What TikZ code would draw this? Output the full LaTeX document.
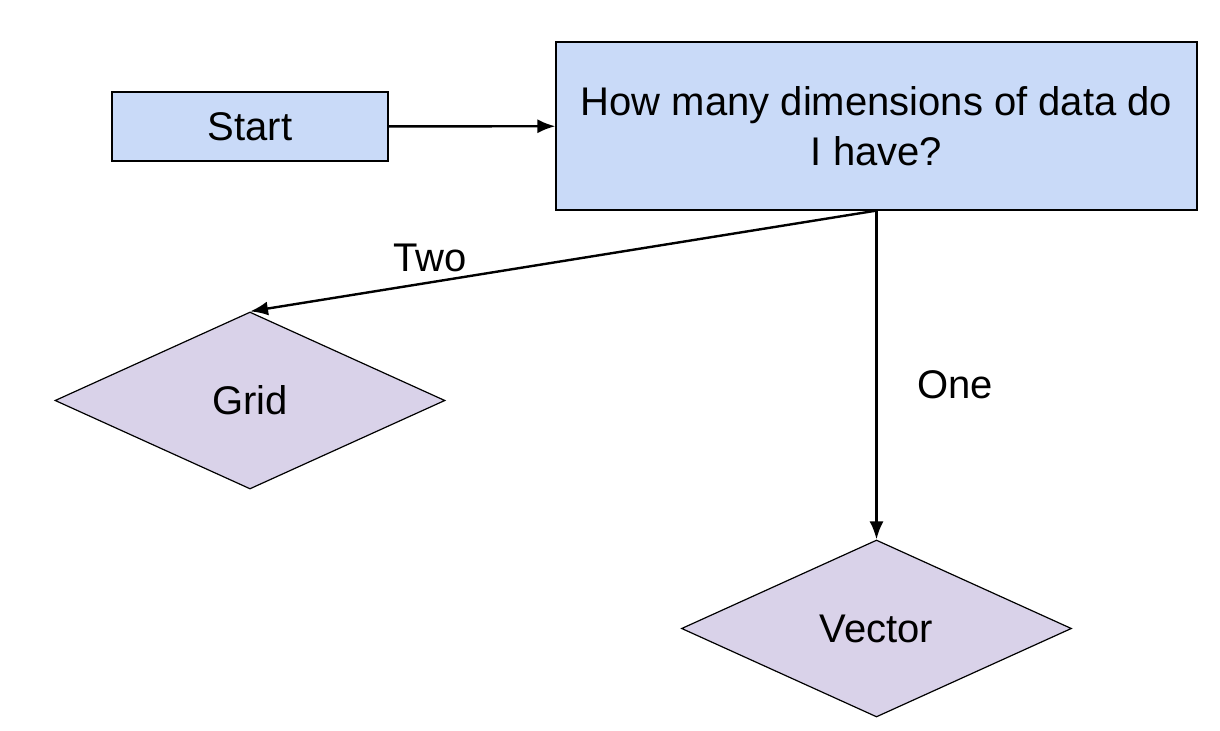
\documentclass[tikz,border=0pt]{standalone}
\usepackage{fontspec}
\setmainfont{Liberation Sans}
\usetikzlibrary{shapes.geometric,arrows.meta}
\definecolor{boxblue}{HTML}{C9DAF8}
\definecolor{lav}{HTML}{D9D2E9}
\begin{document}
\begin{tikzpicture}[x=0.5pt,y=-0.5pt,
  box/.style={draw=black,line width=0.6pt,fill=boxblue,inner sep=0pt,font=\fontsize{20}{25}\selectfont,align=center},
  dia/.style={diamond,draw=black,line width=0.6pt,fill=lav,inner sep=0pt,minimum width=195pt,minimum height=88.5pt,font=\fontsize{20}{25}\selectfont},
  conn/.style={line width=1.2pt,-{Latex[length=9pt,width=7pt]}},
  lbl/.style={font=\fontsize{20}{25}\selectfont}]
\useasboundingbox (0,0) rectangle (1220,731);
\node[box,minimum width=138pt,minimum height=34.5pt] (start) at (250,126.5) {Start};
\node[box,minimum width=320.5pt,minimum height=84pt] (q) at (876.5,126) {How many dimensions of data do\\I have?};
\node[dia] (grid) at (250,400.5) {Grid};
\node[dia] (vec) at (876.5,628.5) {Vector};
\draw[conn] (start) -- (q);
\draw[conn] (q.south) -- (grid.north);
\draw[conn] (q.south) -- (vec.north);
\node[lbl] (two) at (430,258) {Two};
\node[lbl] (one) at (955,385) {One};
\end{tikzpicture}
\end{document}
